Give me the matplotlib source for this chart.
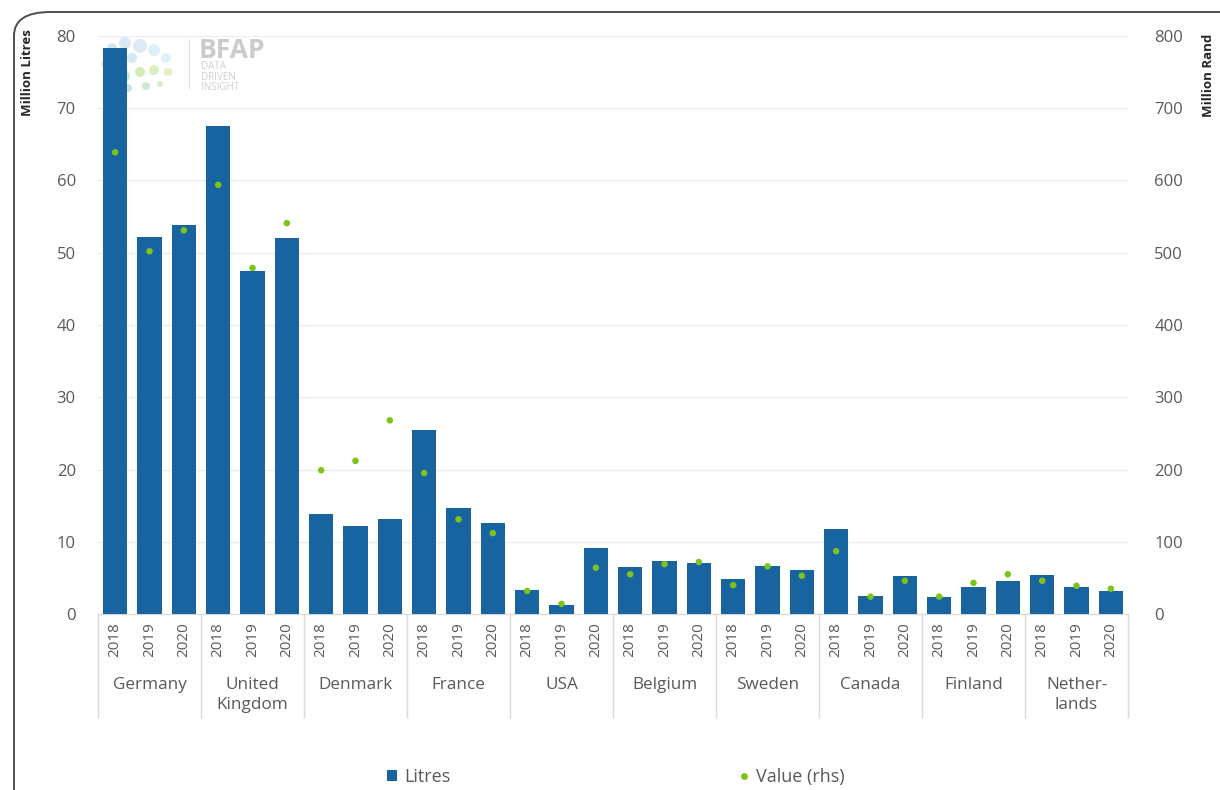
import matplotlib
matplotlib.use("Agg")
import matplotlib.pyplot as plt
from matplotlib.patches import FancyBboxPatch, Circle
from matplotlib.lines import Line2D
from matplotlib.patches import Patch
import matplotlib.transforms as mtransforms
import numpy as np

countries = ["Germany", "United\nKingdom", "Denmark", "France", "USA",
             "Belgium", "Sweden", "Canada", "Finland", "Nether-\nlands"]
years = ["2018", "2019", "2020"]
litres = [78.3, 52.2, 53.8,
          67.6, 47.5, 52.0,
          13.9, 12.2, 13.2,
          25.5, 14.7, 12.6,
          3.3, 1.3, 9.1,
          6.5, 7.3, 7.0,
          4.9, 6.6, 6.1,
          11.8, 2.5, 5.3,
          2.3, 3.8, 4.5,
          5.4, 3.8, 3.2]
value_rhs = [639, 502, 531,
             594, 479, 541,
             199, 212, 268,
             195, 131, 112,
             32, 14, 64,
             55, 69, 72,
             40, 66, 53,
             87, 24, 46,
             24, 43, 55,
             46, 39, 35]

BAR = "#1764a0"
DOT = "#7cc41b"
GREY = "#595959"
FONT = "Open Sans"
plt.rcParams['font.family'] = [FONT, 'DejaVu Sans']

W, H = 1220, 790
fig = plt.figure(figsize=(W / 100, H / 100), dpi=100)

# outer rounded frame
frame = FancyBboxPatch((14 / W, 1 - 1000 / H), 1400 / W, (1000 - 12) / H,
                       boxstyle="round,pad=0,rounding_size=0.03",
                       transform=fig.transFigure, fill=False,
                       edgecolor="#4d4d4d", linewidth=1.4, zorder=0)
fig.patches.append(frame)

L, R, T, B = 98, 1128, 36, 614
ax = fig.add_axes([L / W, 1 - B / H, (R - L) / W, (B - T) / H])
ax.set_zorder(1)
ax.patch.set_visible(False)

# watermark logo (decoration), positioned in pixels
logo_circles = [(112, 48, 5, "#d3e6f2"), (125, 43, 6, "#d8e9f4"), (140, 46, 7, "#dbeaf5"),
                (154, 50, 6, "#e0eef7"), (166, 58, 5, "#e3f0f8"), (118, 60, 6, "#cfe4ef"),
                (132, 58, 5, "#d6e8f2"), (110, 72, 5, "#c9e3da"), (124, 76, 6, "#cbe6c8"),
                (140, 72, 5, "#d4ebb8"), (154, 70, 5, "#dbeec0"), (168, 72, 4, "#e0f0c8"),
                (128, 88, 4, "#c6e0e4"), (146, 86, 4, "#cfe6d0"), (104, 64, 3, "#d5e8f0"),
                (160, 84, 3, "#d9ecd0"), (116, 86, 3, "#cde3e8")]
for cx, cy, r, c in logo_circles:
    fig.patches.append(Circle((cx / 100, (H - cy) / 100), r / 100,
                              transform=fig.dpi_scale_trans,
                              facecolor=c, edgecolor="none", zorder=0.5))
fig.lines.append(Line2D([189 / W, 189 / W], [1 - 40 / H, 1 - 88 / H],
                        transform=fig.transFigure, color="#e2e2e2", lw=1, zorder=0.5))
fig.text(199 / W, 1 - 50 / H, "BFAP", fontsize=19, fontweight="bold", color="#cbcbcb",
         va="center", ha="left", family=FONT, zorder=0.5)
fig.text(201 / W, 1 - 77 / H, "DATA\nDRIVEN\nINSIGHT", fontsize=7, color="#cfcfcf",
         va="center", ha="left", linespacing=0.95, family=FONT, zorder=0.5)

x = np.arange(len(litres))
ax.bar(x, litres, width=0.7, color=BAR, zorder=3)
ax.set_xlim(-0.5, len(litres) - 0.5)
ax.set_ylim(0, 80)
ax.set_yticks(np.arange(0, 81, 10))
ax.grid(axis="y", color="#ececec", linewidth=1, zorder=0)
for s in ["left", "right", "top"]:
    ax.spines[s].set_visible(False)
ax.spines["bottom"].set_color("#d9d9d9")
ax.tick_params(axis="y", length=0, pad=16, labelsize=12, labelcolor=GREY)

ax.set_xticks(x)
ax.set_xticklabels(years * len(countries), rotation=90, fontsize=11, color=GREY)
ax.tick_params(axis="x", which="major", length=0, pad=6)
ax.set_xticks(np.arange(-0.5, len(litres), 3), minor=True)
ax.tick_params(axis="x", which="minor", length=75, color="#d9d9d9", width=1)

trans = mtransforms.blended_transform_factory(ax.transData, ax.transAxes)
for i, c in enumerate(countries):
    ax.text(3 * i + 1, -(677 - B) / (B - T), c, transform=trans, ha="center", va="top",
            fontsize=12.3, color=GREY, linespacing=1.3)

ax.set_ylabel("Million Litres", fontsize=9.5, fontweight="bold", color="#262626")
ax.yaxis.label.set_va("center")
ax.yaxis.label.set_ha("center")
ax.yaxis.set_label_coords(-(98 - 28) / (R - L), 1 - (73 - T) / (B - T))

ax2 = ax.twinx()
ax2.set_ylim(0, 800)
ax2.set_yticks(np.arange(0, 801, 100))
ax2.scatter(x, value_rhs, s=22, color=DOT, zorder=4, edgecolors="none")
for s in ["left", "right", "top", "bottom"]:
    ax2.spines[s].set_visible(False)
ax2.tick_params(axis="y", length=0, pad=19, labelsize=12, labelcolor=GREY)
ax2.set_ylabel("Million Rand", fontsize=9.5, fontweight="bold", color="#262626")
ax2.yaxis.label.set_va("center")
ax2.yaxis.label.set_ha("center")
ax2.yaxis.set_label_coords(1 + (1209 - R) / (R - L), 1 - (75 - T) / (B - T))

leg_kw = dict(loc="center left", frameon=False, fontsize=13, labelcolor=GREY,
              handlelength=0.55, handleheight=0.55, handletextpad=0.4,
              borderpad=0, borderaxespad=0)
fig.legend([Patch(facecolor=BAR, edgecolor="none")], ["Litres"],
           bbox_to_anchor=(387 / W, 1 - 777 / H), **leg_kw)
fig.legend([Line2D([], [], marker="o", linestyle="none", color=DOT, markersize=4)],
           ["Value (rhs)"], bbox_to_anchor=(739 / W, 1 - 777 / H), **leg_kw)

fig.savefig("out.png", dpi=100)
